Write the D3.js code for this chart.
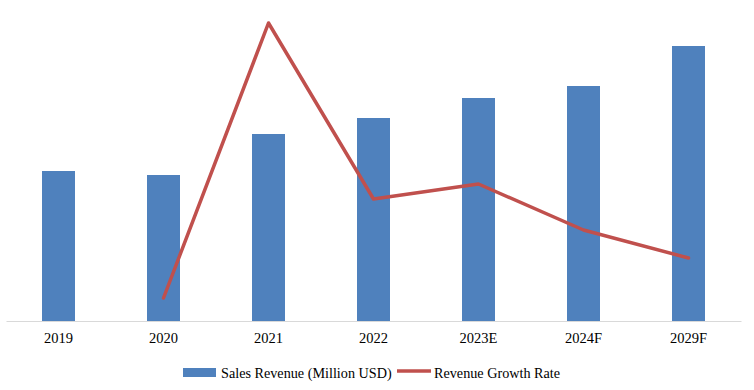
<!DOCTYPE html>
<html>
<head>
<meta charset="utf-8">
<script src="https://cdn.jsdelivr.net/npm/d3@7"></script>
<style>
  html, body { margin: 0; padding: 0; background: #fff; }
  svg { display: block; }
  text { font-family: "Liberation Serif", "Times New Roman", serif; fill: #000; }
</style>
</head>
<body>
<svg id="chart" width="754" height="390"></svg>
<script>
const categories = ["2019", "2020", "2021", "2022", "2023E", "2024F", "2029F"];
const salesRevenue = [150, 146, 187, 203, 223, 235, 275];
const growthRate = [null, -2.7, 24.8, 7.2, 8.7, 4.1, 1.3];
const seriesNames = ["Sales Revenue (Million USD)", "Revenue Growth Rate"];
const colors = ["#4F81BD", "#C0504D"];

const W = 754, H = 390;
const svg = d3.select("#chart");
const FONT = '"Liberation Serif", "Times New Roman", serif';

const x = d3.scaleBand().domain(categories).range([6, 741]).padding(0);
const barW = 33;
const y = d3.scaleLinear().domain([0, 300]).range([321, 21]);
const y2 = d3.scaleLinear().domain([-5, 25]).range([321, 21]);

// bars
svg.append("g").selectAll("rect")
  .data(categories.map((c, i) => ({ c, v: salesRevenue[i] })))
  .join("rect")
  .attr("x", d => x(d.c) + x.bandwidth() / 2 - barW / 2)
  .attr("y", d => y(d.v))
  .attr("width", barW)
  .attr("height", d => y(0) - y(d.v))
  .attr("fill", colors[0]);

// x axis
const axis = svg.append("g").attr("transform", `translate(0,${y(0)})`)
  .call(d3.axisBottom(x).tickSize(0).tickPadding(12));
axis.select(".domain").attr("stroke", "#d9d9d9").attr("stroke-width", 1.2);
axis.selectAll("text").style("font-size", "14.5px")
  .style("font-family", FONT).attr("fill", "#000");

// line
const lineData = categories.map((c, i) => ({ c, v: growthRate[i] })).filter(d => d.v !== null);
svg.append("path")
  .datum(lineData)
  .attr("fill", "none")
  .attr("stroke", colors[1])
  .attr("stroke-width", 3.5)
  .attr("stroke-linejoin", "round")
  .attr("stroke-linecap", "round")
  .attr("d", d3.line().x(d => x(d.c) + x.bandwidth() / 2).y(d => y2(d.v)));

// legend
const lg = svg.append("g");
lg.append("rect").attr("x", 183).attr("y", 368).attr("width", 33).attr("height", 9).attr("fill", colors[0]);
lg.append("text").attr("x", 221).attr("y", 378).style("font-size", "14.2px").style("font-family", FONT).text(seriesNames[0]);
lg.append("line").attr("x1", 397).attr("x2", 431).attr("y1", 371).attr("y2", 371)
  .attr("stroke", colors[1]).attr("stroke-width", 3.5);
lg.append("text").attr("x", 434).attr("y", 378).style("font-size", "14.2px").style("font-family", FONT).text(seriesNames[1]);
</script>
</body>
</html>
